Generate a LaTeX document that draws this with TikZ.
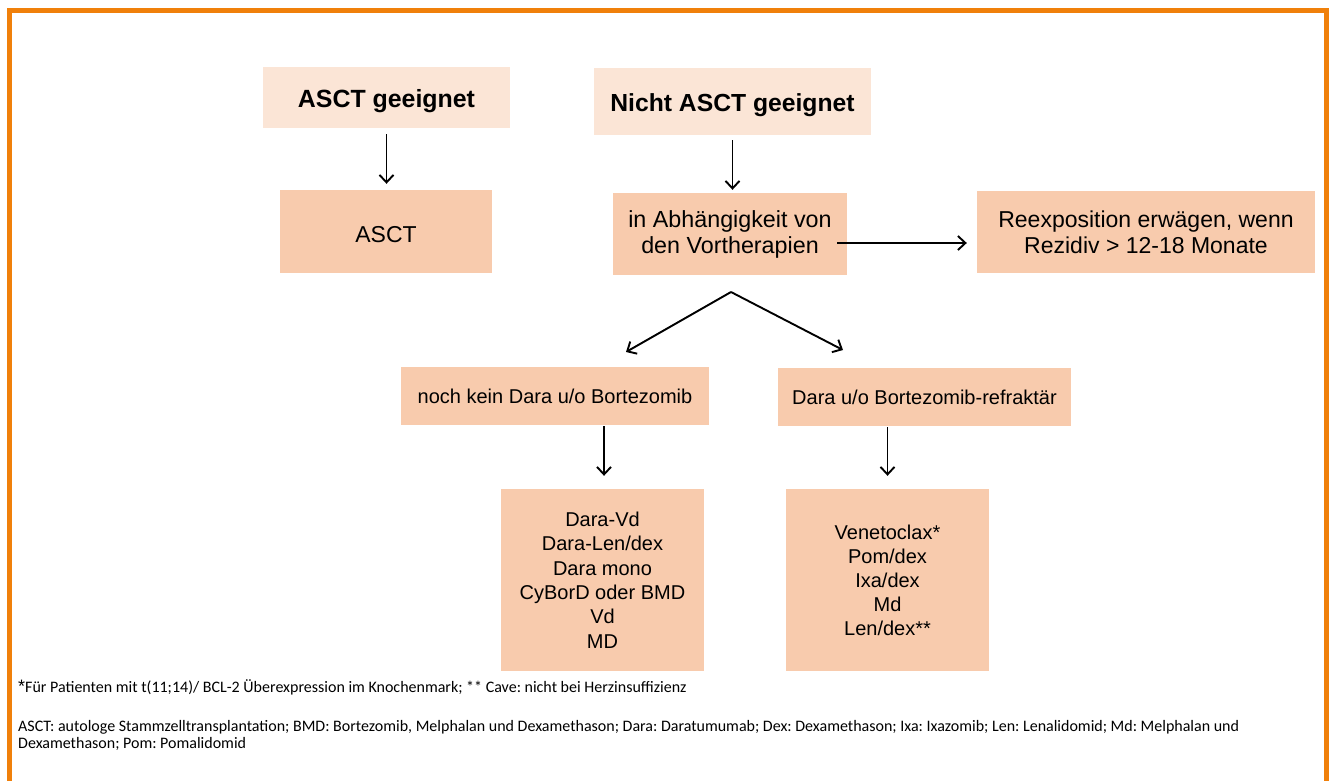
\documentclass[tikz,border=0pt]{standalone}
\usepackage{fontspec}
\setmainfont{Liberation Sans}
\newfontfamily\notefont{Carlito}
\newfontfamily\starfont{Liberation Sans}
\usetikzlibrary{arrows.meta}
\definecolor{frameorange}{RGB}{240,128,10}
\definecolor{boxlight}{RGB}{251,229,214}
\definecolor{boxdark}{RGB}{248,203,173}
\tikzset{
  lbox/.style={fill=boxlight, draw=none, inner sep=0pt, align=center, text=black},
  dbox/.style={fill=boxdark, draw=none, inner sep=0pt, align=center, text=black},
  arr/.style={-{Straight Barb[length=7.5pt,width=14pt]}, line width=1.9pt, black},
  note/.style={anchor=base west, inner sep=0pt, align=left, font=\notefont\fontsize{16}{17}\selectfont\frenchspacing}
}
\begin{document}
\begin{tikzpicture}[x=1pt,y=-1pt]
\useasboundingbox (0,0) rectangle (1333,780);
\fill[white] (0,0) rectangle (1333,780);
% frame
\draw[frameorange, line width=5pt] (9.5,782) -- (9.5,10.5) -- (1326.5,10.5) -- (1326.5,782);

% top boxes
\node[lbox, minimum width=247pt, minimum height=61pt, text height=19pt, text depth=0pt, font=\fontsize{24.9}{29}\selectfont\bfseries] (g1) at (386.5,97.5) {ASCT geeignet};
\node[dbox, minimum width=212pt, minimum height=83pt, text height=21pt, text depth=0pt, font=\fontsize{23}{27}\selectfont] (asct) at (386,231.5) {ASCT};
\node[lbox, minimum width=277pt, minimum height=67pt, text height=20pt, text depth=0pt, font=\fontsize{24.7}{29}\selectfont\bfseries] (g2) at (732.5,101.5) {Nicht ASCT geeignet};
\node[dbox, minimum width=234pt, minimum height=82pt, font=\fontsize{23.3}{26}\selectfont] (abh) at (730,234) {in Abhängigkeit von\\den Vortherapien};
\node[dbox, minimum width=338pt, minimum height=82pt, font=\fontsize{23}{26}\selectfont] (reex) at (1146,232) {Reexposition erwägen, wenn\\Rezidiv > 12-18 Monate};

% middle boxes
\node[dbox, minimum width=308pt, minimum height=58pt, font=\fontsize{20}{24}\selectfont] (noch) at (555,396) {noch kein Dara u/o Bortezomib};
\node[dbox, minimum width=293pt, minimum height=58pt, font=\fontsize{20}{24}\selectfont] (refr) at (924.5,397) {Dara u/o Bortezomib-refraktär};

% bottom boxes
\node[dbox, minimum width=203pt, minimum height=182pt, font=\fontsize{20}{24.4}\selectfont] (list1) at (602.5,580) {Dara-Vd\\Dara-Len/dex\\Dara mono\\CyBorD oder BMD\\Vd\\MD};
\node[dbox, minimum width=203pt, minimum height=182pt, font=\fontsize{20}{24}\selectfont] (list2) at (887.5,580) {Venetoclax*\\Pom/dex\\Ixa/dex\\Md\\Len/dex**};

% connectors
\draw[arr] ([yshift=-6pt]g1.south) -- ([yshift=6pt]g1.south |- asct.north);
\draw[arr] ([yshift=-5pt]g2.south) -- ([yshift=3pt]g2.south |- abh.north);
\draw[arr] ([xshift=-10pt,yshift=-9pt]abh.east) -- ([xshift=-10pt,yshift=-11pt]reex.west);
\coordinate (apex) at (731,292);
\coordinate (ltip) at (626,352);
\coordinate (rtip) at (843,350);
\draw[arr] (apex) -- (ltip);
\draw[arr] (apex) -- (rtip);
\draw[arr] ([xshift=1.5pt,yshift=-1pt]list1.north |- noch.south) -- ([xshift=1.5pt,yshift=13pt]list1.north);
\draw[arr] ([yshift=-1pt]list2.north |- refr.south) -- ([yshift=13pt]list2.north);

% footnotes
\node[note] (fn1) at (18,692) {{\starfont\fontsize{18}{17}\selectfont *}Für Patienten mit t(11;14)/ BCL-2 Überexpression im Knochenmark; ** Cave: nicht bei Herzinsuffizienz};
\node[note] (fn2) at (18,731) {ASCT: autologe Stammzelltransplantation; BMD: Bortezomib, Melphalan und Dexamethason; Dara: Daratumumab; Dex: Dexamethason; Ixa: Ixazomib; Len: Lenalidomid; Md: Melphalan und};
\node[note] (fn3) at (18,748) {Dexamethason; Pom: Pomalidomid};
\end{tikzpicture}
\end{document}
